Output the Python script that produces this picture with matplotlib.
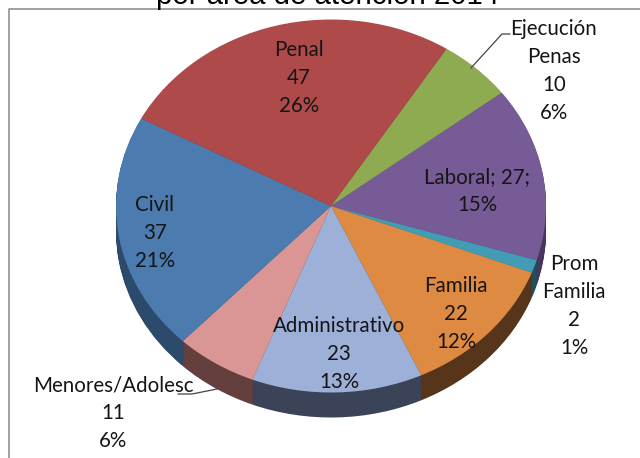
"""Pie chart of cases per area, drawn with a fake 3D edge."""

import matplotlib
matplotlib.use("Agg")
import matplotlib.pyplot as plt

W, H = 640, 458
CX, CY, RX, RY = 331, 206, 215, 186.5
DEPTH = 25

areas = ["Ejecución\nPenas", "Laboral; 27;", "Prom\nFamilia", "Familia", "Administrativo",
         "Menores/Adolesc", "Civil", "Penal"]
values = [10, 27, 2, 22, 23, 11, 37, 47]
percents = ["6%", "15%", "1%", "12%", "13%", "6%", "21%", "26%"]
colors = ["#8EAB52", "#775B96", "#429CB5", "#DF8A42", "#9CB0D8", "#D99694", "#4B7BAF", "#AE4B4A"]
side_colors = ["#55663A", "#46365A", "#1F4E5C", "#57351A", "#3B4358", "#643F3E", "#2B4A6C", "#6B2F2E"]
label_pos = [(554, 71), (477, 191), (574, 306), (456, 314), (339, 354), (113, 413), (155, 233), (299, 78)]


def main():
    fig = plt.figure(figsize=(W / 100, H / 100), dpi=100)
    ax = fig.add_axes([0, 0, 1, 1])

    # side of the pie: same wedges repeated going down, dark first
    for off in range(DEPTH, 0, -1):
        ax.pie(values, colors=side_colors, startangle=57.5, counterclock=False,
               center=(0, -off / RY), wedgeprops={"linewidth": 0.6, "edgecolor": "none"})
    ax.pie(values, colors=colors, startangle=57.5, counterclock=False,
           wedgeprops={"linewidth": 0})
    ax.set_aspect("auto")
    ax.set_xlim(-CX / RX, (W - CX) / RX)
    ax.set_ylim((CY - H) / RY, CY / RY)
    ax.axis("off")

    # leader lines and frame, in pixels
    def px(points):
        return [p[0] / W for p in points], [1 - p[1] / H for p in points]

    xs, ys = px([(471, 68), (502, 34), (510, 34)])
    fig.add_artist(plt.Line2D(xs, ys, color="#444444", lw=0.9))
    xs, ys = px([(178, 394), (192, 394), (217, 389)])
    fig.add_artist(plt.Line2D(xs, ys, color="#444444", lw=0.9))
    xs, ys = px([(9, H), (9, 8.5), (W, 8.5)])
    fig.add_artist(plt.Line2D(xs, ys, color="#9a9a9a", lw=1.3))

    for area, value, pct, (x, y) in zip(areas, values, percents, label_pos):
        if area.startswith("Laboral"):
            text = f"{area}\n{pct}"
        else:
            text = f"{area}\n{value}\n{pct}"
        fig.text(x / W, 1 - y / H, text, ha="center", va="center", family="Lato",
                 fontsize=14.8, linespacing=1.48, color="#151515")

    fig.text(328 / W, 1 - 4.5 / H, "por área de atención 2014", ha="center", va="baseline",
             family="Liberation Sans", fontsize=21.2, color="black")
    fig.savefig("out.png", dpi=100)


if __name__ == "__main__":
    main()
